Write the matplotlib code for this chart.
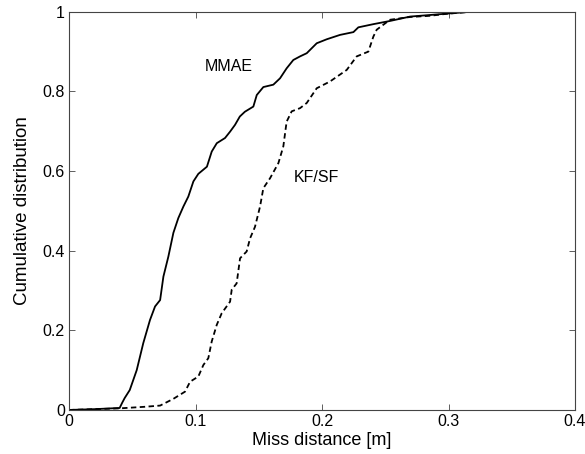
import matplotlib
matplotlib.use("Agg")
import matplotlib.pyplot as plt

# MMAE (solid) cumulative distribution
mmae_x = [0.0, 0.020, 0.040, 0.042, 0.044, 0.048, 0.0535, 0.0587, 0.064, 0.068, 0.072,
          0.0746, 0.0785, 0.0825, 0.0864, 0.0904, 0.0943, 0.0983, 0.1022, 0.109,
          0.1128, 0.1168, 0.1233, 0.1273, 0.1312, 0.135, 0.139, 0.1457, 0.1484,
          0.1536, 0.1615, 0.1668, 0.172, 0.1773, 0.1826, 0.1879, 0.1958, 0.2037,
          0.2142, 0.2248, 0.2287, 0.2406, 0.2537, 0.2696, 0.2854, 0.301, 0.317]
mmae_y = [0.0, 0.002, 0.005, 0.018, 0.03, 0.05, 0.10, 0.168, 0.226, 0.26, 0.276,
          0.335, 0.385, 0.445, 0.482, 0.511, 0.536, 0.574, 0.593, 0.611,
          0.649, 0.670, 0.683, 0.699, 0.716, 0.737, 0.749, 0.762, 0.791,
          0.811, 0.817, 0.833, 0.858, 0.879, 0.888, 0.896, 0.921, 0.931,
          0.942, 0.949, 0.961, 0.969, 0.977, 0.988, 0.992, 0.996, 1.0]

# KF/SF (dashed) cumulative distribution
kf_x = [0.0, 0.020, 0.040, 0.060, 0.072, 0.0825, 0.0917, 0.0957, 0.1022, 0.1062,
        0.1101, 0.1128, 0.1168, 0.1207, 0.1273, 0.1286, 0.1325, 0.1352, 0.1404,
        0.1431, 0.147, 0.151, 0.1536, 0.1589, 0.1655, 0.1694, 0.172, 0.176,
        0.1826, 0.1879, 0.1958, 0.2063, 0.2195, 0.2274, 0.2366, 0.2406, 0.2432,
        0.2537, 0.2696, 0.2854, 0.2986, 0.317]
kf_y = [0.0, 0.002, 0.004, 0.008, 0.011, 0.028, 0.046, 0.071, 0.084, 0.113,
        0.130, 0.172, 0.214, 0.243, 0.272, 0.302, 0.318, 0.381, 0.398,
        0.431, 0.460, 0.511, 0.557, 0.582, 0.620, 0.662, 0.724, 0.750,
        0.758, 0.771, 0.808, 0.825, 0.854, 0.888, 0.900, 0.938, 0.955,
        0.980, 0.987, 0.990, 0.995, 1.0]

x_ticks = [0, 0.1, 0.2, 0.3, 0.4]
x_tick_labels = ["0", "0.1", "0.2", "0.3", "0.4"]
y_ticks = [0, 0.2, 0.4, 0.6, 0.8, 1.0]
y_tick_labels = ["0", "0.2", "0.4", "0.6", "0.8", "1"]

plt.rcParams['font.family'] = ['Liberation Sans', 'DejaVu Sans']

fig = plt.figure(figsize=(5.85, 4.54), dpi=100)
ax = fig.add_axes([0.118, 0.097, 0.865, 0.877])

ax.plot(mmae_x, mmae_y, color='black', lw=1.3, linestyle='-')
ax.plot(kf_x, kf_y, color='black', lw=1.3, linestyle=(0, (3.0, 1.9)))

ax.set_xlim(0, 0.4)
ax.set_ylim(0, 1)
ax.set_xticks(x_ticks)
ax.set_xticklabels(x_tick_labels)
ax.set_yticks(y_ticks)
ax.set_yticklabels(y_tick_labels)
ax.tick_params(direction='in', length=4, width=0.6, color='#444444',
               top=True, right=True, labelsize=11.5, pad=3)
for s in ax.spines.values():
    s.set_linewidth(0.8)
    s.set_color('#444444')

ax.set_xlabel("Miss distance [m]", fontsize=13, labelpad=2)
ax.set_ylabel("Cumulative distribution", fontsize=13.5, labelpad=8)

ax.text(0.1265, 0.8626, "MMAE", fontsize=11.5, ha='center', va='center')
ax.text(0.1958, 0.583, "KF/SF", fontsize=11.5, ha='center', va='center')

fig.savefig("out.png", dpi=100)
